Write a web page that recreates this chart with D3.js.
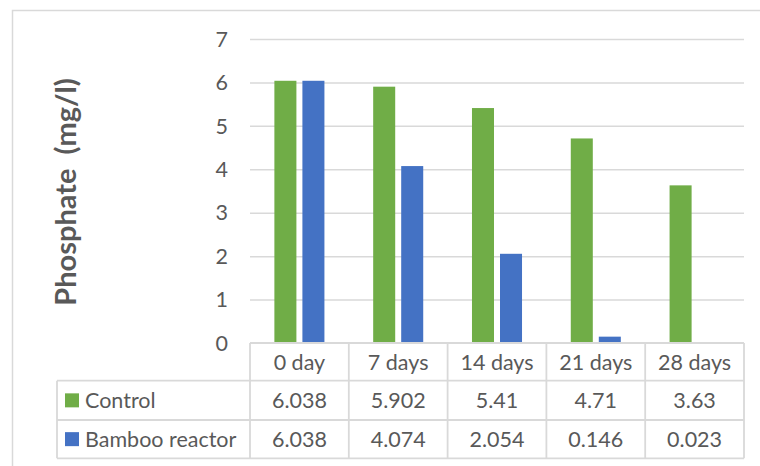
<!DOCTYPE html>
<html>
<head>
<meta charset="utf-8">
<script src="https://cdn.jsdelivr.net/npm/d3@7"></script>
<style>
  body { margin: 0; background: #fff; }
  svg text { font-family: Lato, "Open Sans", sans-serif; fill: #595959; }
</style>
</head>
<body>
<svg id="chart" width="760" height="466"></svg>
<script>
// data
const categories = ["0 day", "7 days", "14 days", "21 days", "28 days"];
const seriesNames = ["Control", "Bamboo reactor"];
const control = [6.038, 5.902, 5.41, 4.71, 3.63];
const bamboo = [6.038, 4.074, 2.054, 0.146, 0.023];
const controlLabels = ["6.038", "5.902", "5.41", "4.71", "3.63"];
const bambooLabels = ["6.038", "4.074", "2.054", "0.146", "0.023"];
const yTicks = [0, 1, 2, 3, 4, 5, 6, 7];
const colors = ["#70AD47", "#4472C4"];

const series = [
  {name: seriesNames[0], values: control, labels: controlLabels},
  {name: seriesNames[1], values: bamboo, labels: bambooLabels}
];

var svg = d3.select("#chart"),
  plot = {left: 250, right: 744, top: 39, bottom: 343},
  tableLeft = 57,
  rowBottoms = [380.7, 420, 458.3],
  fontSize = "21.5px";

// outer chart border
svg.append("rect")
  .attr("x", 12.5).attr("y", 10.5)
  .attr("width", 800).attr("height", 500)
  .attr("fill", "none")
  .attr("stroke", "#D9D9D9")
  .attr("stroke-width", 1.5);

var x0 = d3.scaleBand()
  .domain(categories)
  .range([plot.left, plot.right]);

var x1 = d3.scaleBand()
  .domain(seriesNames)
  .range([0, x0.bandwidth()])
  .paddingInner(0.214)
  .paddingOuter(0.87);

var y = d3.scaleLinear()
  .domain([0, 7])
  .range([plot.bottom, plot.top]);

// gridlines + tick labels
var yAxis = svg.append("g")
  .attr("transform", `translate(${plot.left},0)`)
  .call(d3.axisLeft(y).tickValues(yTicks.slice(1)).tickSize(-(plot.right - plot.left)).tickFormat(""));
yAxis.select(".domain").remove();
yAxis.selectAll("line").attr("stroke", "#D9D9D9").attr("stroke-width", 1.5);

svg.append("g").selectAll("text")
  .data(yTicks)
  .enter().append("text")
  .attr("x", 228)
  .attr("y", d => y(d))
  .attr("dy", "0.36em")
  .attr("text-anchor", "end")
  .attr("font-size", fontSize)
  .text(d => d);

// bars
var groups = svg.selectAll("g.layer")
  .data(series)
  .enter().append("g")
  .attr("class", "layer")
  .attr("fill", (d, i) => colors[i]);

groups.selectAll("rect")
  .data(d => d.values.map((v, i) => ({name: d.name, cat: categories[i], value: v})))
  .enter().append("rect")
  .attr("x", d => x0(d.cat) + x1(d.name))
  .attr("y", d => y(d.value))
  .attr("width", x1.bandwidth())
  .attr("height", d => y(0) - y(d.value));

// data table
var table = svg.append("g")
  .attr("stroke", "#D9D9D9")
  .attr("stroke-width", 1.8)
  .attr("fill", "none");

// horizontal lines
table.append("line")
  .attr("x1", plot.left).attr("x2", plot.right)
  .attr("y1", plot.bottom).attr("y2", plot.bottom);
rowBottoms.forEach(ry => {
  table.append("line")
    .attr("x1", tableLeft).attr("x2", plot.right)
    .attr("y1", ry).attr("y2", ry);
});
// vertical lines
categories.concat(["end"]).forEach((c, i) => {
  var xx = i < categories.length ? x0(c) : plot.right;
  table.append("line")
    .attr("x1", xx).attr("x2", xx)
    .attr("y1", plot.bottom).attr("y2", rowBottoms[2]);
});
table.append("line")
  .attr("x1", tableLeft).attr("x2", tableLeft)
  .attr("y1", rowBottoms[0]).attr("y2", rowBottoms[2]);

// header texts
svg.append("g").selectAll("text")
  .data(categories)
  .enter().append("text")
  .attr("x", d => x0(d) + x0.bandwidth() / 2)
  .attr("y", (plot.bottom + rowBottoms[0]) / 2)
  .attr("dy", "0.36em")
  .attr("text-anchor", "middle")
  .attr("font-size", fontSize)
  .text(d => d);

// rows
series.forEach((s, si) => {
  var top = rowBottoms[si], bottom = rowBottoms[si + 1];
  var cy = (top + bottom) / 2;
  svg.append("rect")
    .attr("x", 65).attr("y", cy - 7)
    .attr("width", 14).attr("height", 14)
    .attr("fill", colors[si]);
  svg.append("text")
    .attr("x", 85).attr("y", cy)
    .attr("dy", "0.36em")
    .attr("font-size", fontSize)
    .text(s.name);
  svg.append("g").selectAll("text")
    .data(s.labels)
    .enter().append("text")
    .attr("x", (d, i) => x0(categories[i]) + x0.bandwidth() / 2)
    .attr("y", cy)
    .attr("dy", "0.36em")
    .attr("text-anchor", "middle")
    .attr("font-size", fontSize)
    .text(d => d);
});

// y-axis title
svg.append("text")
  .attr("transform", "translate(76,192) rotate(-90)")
  .attr("text-anchor", "middle")
  .attr("font-size", "29px")
  .attr("font-weight", "bold")
  .style("white-space", "pre")
  .text("Phosphate  (mg/l)");
</script>
</body>
</html>
